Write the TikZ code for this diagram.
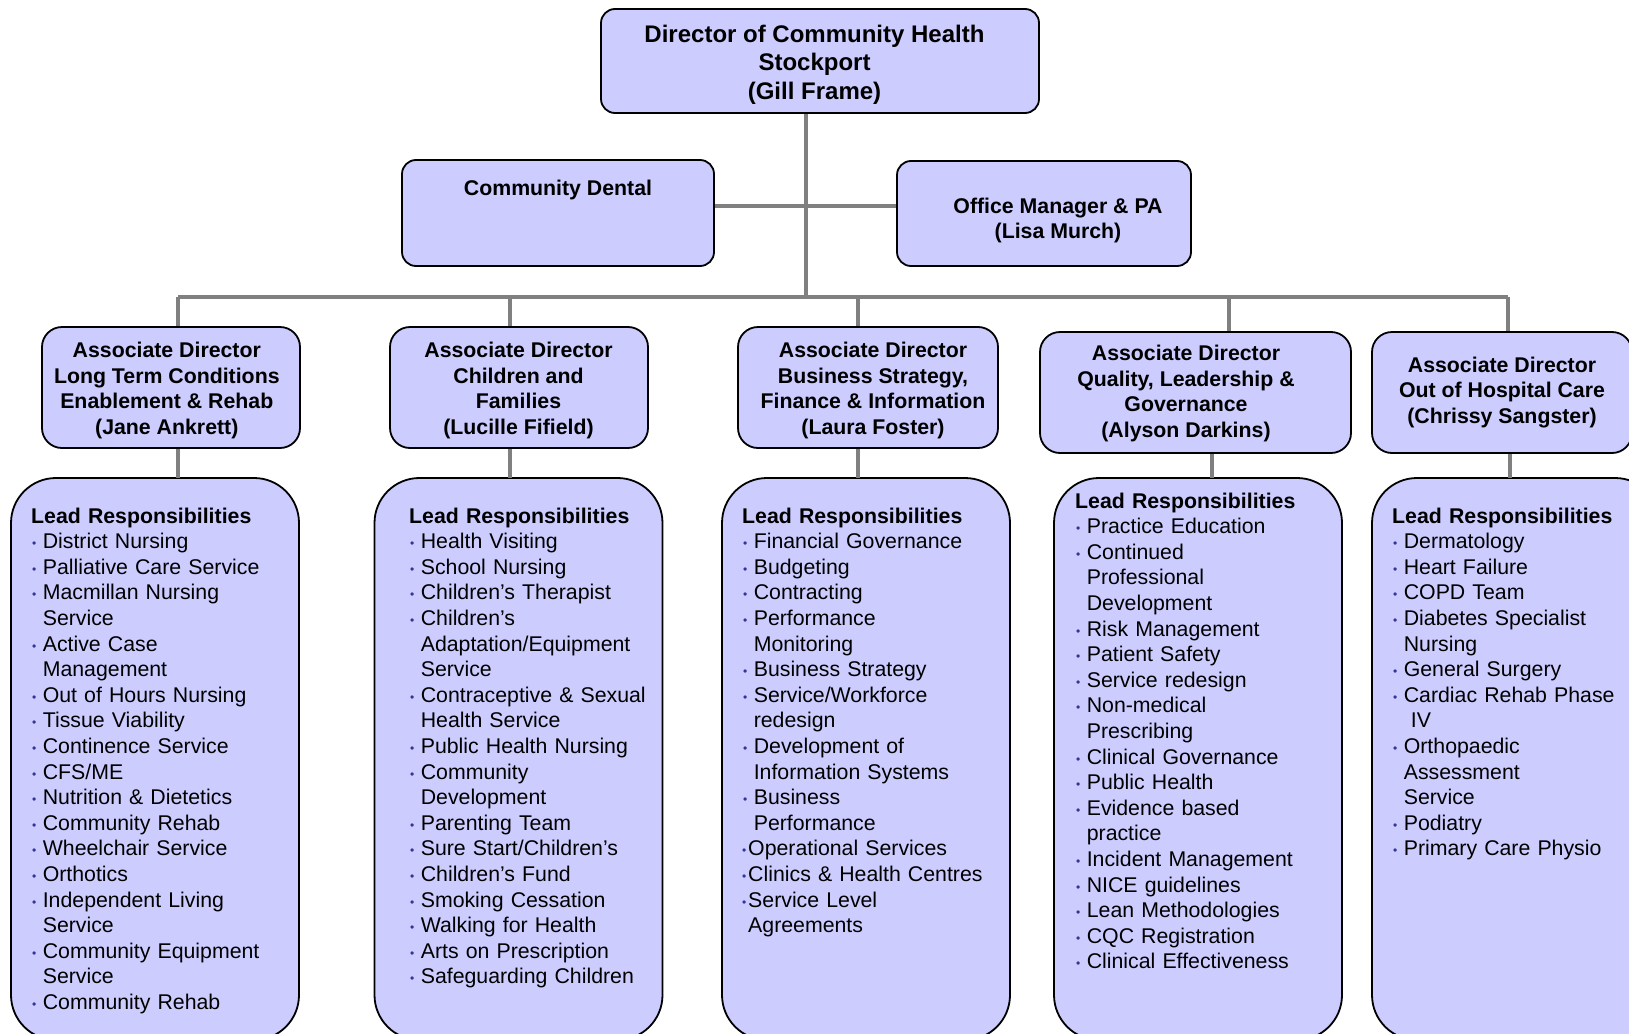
\documentclass[tikz,border=0pt]{standalone}
\usepackage{fontspec}
\setmainfont{Liberation Sans}
\usetikzlibrary{positioning}
\definecolor{boxfill}{RGB}{204,204,255}
\definecolor{linkgray}{RGB}{128,128,128}
\definecolor{bulblue}{RGB}{51,51,153}
\newcommand{\bul}{\makebox[11.6pt][l]{\hspace{1pt}\raisebox{1pt}{\fontsize{12}{12}\selectfont\color{bulblue}\textbullet}}}
\newcommand{\bult}{\makebox[6pt][l]{\raisebox{1pt}{\fontsize{12}{12}\selectfont\color{bulblue}\textbullet}}}
\newcommand{\ind}{\hspace*{11.6pt}}
\tikzset{
  box/.style={draw=black, line width=1.8pt, fill=boxfill, rounded corners=14pt, inner sep=0pt},
  assoc/.style={box, rounded corners=20pt, minimum height=121pt},
  lead/.style={draw=black, line width=1.8pt, fill=boxfill, rounded corners=45pt, minimum width=288pt, minimum height=562pt},
  boxtxt/.style={inner sep=0pt, align=center, font=\fontsize{21.3}{25.5}\selectfont\bfseries},
  leadtxt/.style={anchor=base west, inner sep=0pt, text width=270pt, align=left, font=\fontsize{21.3}{25.6}\selectfont},
  link/.style={draw=linkgray, line width=3.5pt}
}
\begin{document}
\begin{tikzpicture}[x=1pt,y=-1pt]
\useasboundingbox (0,0) rectangle (1629,1033);
\clip (0,0) rectangle (1629,1033);
\coordinate (bus) at (806,297);
\coordinate (mid) at (806,206);

\node[box, minimum width=438pt, minimum height=104pt] (dir) at (820,61) {};
\node[boxtxt, font=\fontsize{24}{28.6}\selectfont\bfseries] (dirtxt) at (814.5,64.7) {Director of Community Health\\Stockport\\(Gill Frame)};
\node[box, minimum width=312pt, minimum height=106pt] (dental) at (558,213) {};
\node[boxtxt] (dentaltxt) at (558,190) {Community Dental};
\node[box, minimum width=294pt, minimum height=105pt] (office) at (1044,213.5) {};
\node[boxtxt] (officetxt) at (1058,220.5) {Office Manager \& PA\\(Lisa Murch)};

\node[assoc, minimum width=258pt] (a1) at (171,387.5) {};
\node[assoc, minimum width=258pt] (a2) at (519,387.5) {};
\node[assoc, minimum width=260pt] (a3) at (868,387.5) {};
\node[assoc, minimum width=311pt] (a4) at (1195.5,392.5) {};
\node[assoc, minimum width=260pt] (a5) at (1502,392.5) {};
\node[boxtxt] (a1txt) at (166.8,390.5) {Associate Director\\Long Term Conditions\\Enablement \& Rehab\\(Jane Ankrett)};
\node[boxtxt] (a2txt) at (518.5,390.5) {Associate Director\\Children and\\Families\\(Lucille Fifield)};
\node[boxtxt] (a3txt) at (873,390.5) {Associate Director\\Business Strategy,\\Finance \& Information\\(Laura Foster)};
\node[boxtxt] (a4txt) at (1186,393.5) {Associate Director\\Quality, Leadership \&\\Governance\\(Alyson Darkins)};
\node[boxtxt] (a5txt) at (1502,392.5) {Associate Director\\Out of Hospital Care\\(Chrissy Sangster)};

\node[lead] (l1) at (155,759) {};
\node[lead] (l2) at (518.5,759) {};
\node[lead] (l3) at (866,759) {};
\node[lead] (l4) at (1198,759) {};
\node[lead] (l5) at (1516,759) {};

\draw[link] (dir.south -| bus) -- (bus);
\draw[link] (dental.east |- mid) -- (office.west |- mid);
\foreach \i/\x in {1/178,2/510,3/858,4/1229,5/1508}
  \coordinate (d\i) at (\x,297);
\draw[link] (d1) -- (d5);
\foreach \i in {1,...,5}
  \draw[link] (d\i) -- (d\i |- a\i.north);
\foreach \i/\x in {1/178,2/510,3/858,4/1212,5/1510}{
  \coordinate (e\i) at (\x,478);
  \draw[link] (a\i.south -| e\i) -- (e\i);
}

\node[leadtxt] (lt1) at (31,523) {\textbf{Lead Responsibilities}\\
\bul District Nursing\\
\bul Palliative Care Service\\
\bul Macmillan Nursing\\
\ind Service\\
\bul Active Case\\
\ind Management\\
\bul Out of Hours Nursing\\
\bul Tissue Viability\\
\bul Continence Service\\
\bul CFS/ME\\
\bul Nutrition \& Dietetics\\
\bul Community Rehab\\
\bul Wheelchair Service\\
\bul Orthotics\\
\bul Independent Living\\
\ind Service\\
\bul Community Equipment\\
\ind Service\\
\bul Community Rehab};

\node[leadtxt] (lt2) at (409,523) {\textbf{Lead Responsibilities}\\
\bul Health Visiting\\
\bul School Nursing\\
\bul Children’s Therapist\\
\bul Children’s\\
\ind Adaptation/Equipment\\
\ind Service\\
\bul Contraceptive \& Sexual\\
\ind Health Service\\
\bul Public Health Nursing\\
\bul Community\\
\ind Development\\
\bul Parenting Team\\
\bul Sure Start/Children’s\\
\bul Children’s Fund\\
\bul Smoking Cessation\\
\bul Walking for Health\\
\bul Arts on Prescription\\
\bul Safeguarding Children};

\node[leadtxt] (lt3) at (742,523) {\textbf{Lead Responsibilities}\\
\bul Financial Governance\\
\bul Budgeting\\
\bul Contracting\\
\bul Performance\\
\ind Monitoring\\
\bul Business Strategy\\
\bul Service/Workforce\\
\ind redesign\\
\bul Development of\\
\ind Information Systems\\
\bul Business\\
\ind Performance\\
\bult Operational Services\\
\bult Clinics \& Health Centres\\
\bult Service Level\\
\hspace*{6pt}Agreements};

\node[leadtxt] (lt4) at (1075,508) {\textbf{Lead Responsibilities}\\
\bul Practice Education\\
\bul Continued\\
\ind Professional\\
\ind Development\\
\bul Risk Management\\
\bul Patient Safety\\
\bul Service redesign\\
\bul Non-medical\\
\ind Prescribing\\
\bul Clinical Governance\\
\bul Public Health\\
\bul Evidence based\\
\ind practice\\
\bul Incident Management\\
\bul NICE guidelines\\
\bul Lean Methodologies\\
\bul CQC Registration\\
\bul Clinical Effectiveness};

\node[leadtxt] (lt5) at (1392,523) {\textbf{Lead Responsibilities}\\
\bul Dermatology\\
\bul Heart Failure\\
\bul COPD Team\\
\bul Diabetes Specialist\\
\ind Nursing\\
\bul General Surgery\\
\bul Cardiac Rehab Phase\\
\ind\ IV\\
\bul Orthopaedic\\
\ind Assessment\\
\ind Service\\
\bul Podiatry\\
\bul Primary Care Physio};
\end{tikzpicture}
\end{document}
